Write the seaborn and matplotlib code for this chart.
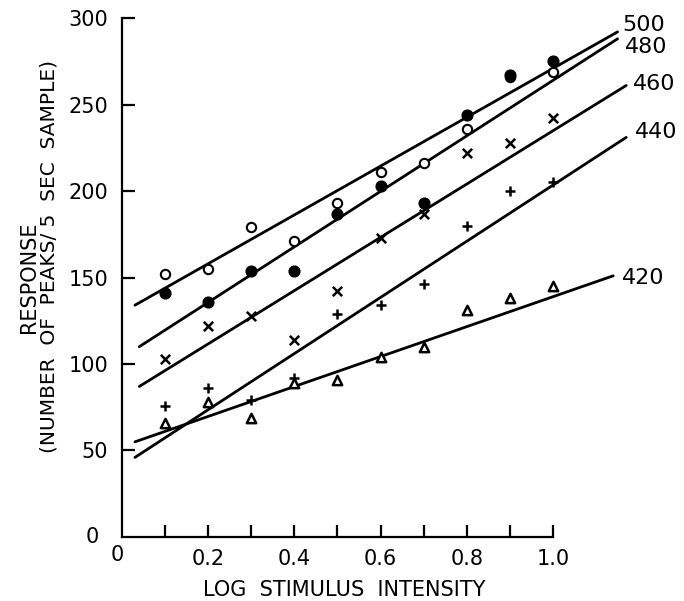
import matplotlib
matplotlib.use("Agg")
import matplotlib.pyplot as plt
import seaborn as sns
import pandas as pd

# ---- data ----
intensity = [0.1, 0.2, 0.3, 0.4, 0.5, 0.6, 0.7, 0.8, 0.9, 1.0]
open_circle = [152, 155, 179, 171, 193, 211, 216, 236, 266, 269]
filled_circle = [141, 136, 154, 154, 187, 203, 193, 244, 267, 275]
cross_x = [103, 122, 128, 114, 142, 173, 187, 222, 228, 242]
plus = [76, 86, 79, 92, 129, 134, 146, 180, 200, 205]
triangle = [66, 78, 69, 89, 91, 104, 110, 131, 138, 145]

# fitted lines (wavelength labels, start/end x and y)
wavelengths = ["500", "480", "460", "440", "420"]
line_x0 = [0.03, 0.04, 0.04, 0.03, 0.03]
line_x1 = [1.15, 1.15, 1.17, 1.17, 1.14]
line_y0 = [134, 110, 87, 46, 55]
line_y1 = [292, 288, 261, 231, 151]
# label anchor positions (data units)
label_x = [1.162, 1.167, 1.186, 1.190, 1.160]
label_y = [296, 283, 262, 234, 150]

xticks = [0.1, 0.2, 0.3, 0.4, 0.5, 0.6, 0.7, 0.8, 0.9, 1.0]
xticklabels = ["", "0.2", "", "0.4", "", "0.6", "", "0.8", "", "1.0"]
yticks = [50, 100, 150, 200, 250, 300]

sns.set_theme(style="ticks")
plt.rcParams['font.family'] = ['DejaVu Sans']
plt.rcParams['text.color'] = 'black'

fig = plt.figure(figsize=(6.84, 6.01), dpi=100)
ax = fig.add_axes([0.1784, 0.1065, 0.756, 0.8923])

# lines
for i, w in enumerate(wavelengths):
    df = pd.DataFrame({"x": [line_x0[i], line_x1[i]], "y": [line_y0[i], line_y1[i]]})
    sns.lineplot(data=df, x="x", y="y", ax=ax, color="black", linewidth=2.0,
                 estimator=None, sort=False, legend=False)
    ax.text(label_x[i], label_y[i], w, fontsize=16, ha="left", va="center",
            color="black", clip_on=False)

# markers
sns.scatterplot(x=intensity, y=open_circle, ax=ax, marker="o", s=45,
                facecolor="white", edgecolor="black", linewidth=1.5, zorder=3)
sns.scatterplot(x=intensity, y=filled_circle, ax=ax, marker="o", s=60,
                color="black", edgecolor="black", linewidth=1, zorder=4)
sns.scatterplot(x=intensity, y=cross_x, ax=ax, marker="x", s=45,
                color="black", linewidth=1.8, zorder=3)
sns.scatterplot(x=intensity, y=plus, ax=ax, marker="+", s=55,
                color="black", linewidth=1.8, zorder=3)
sns.scatterplot(x=intensity, y=triangle, ax=ax, marker="^", s=45,
                facecolor="white", edgecolor="black", linewidth=1.8, zorder=3)

ax.set_xlim(0, 1.2)
ax.set_ylim(0, 310)
ax.spines["top"].set_visible(False)
ax.spines["right"].set_visible(False)
ax.spines["left"].set_bounds(0, 300)
ax.spines["bottom"].set_bounds(0, 1.0)
for s in ("left", "bottom"):
    ax.spines[s].set_linewidth(1.6)
    ax.spines[s].set_color("black")

ax.set_xticks(xticks)
ax.set_xticklabels(xticklabels)
ax.set_yticks(yticks)
ax.set_yticklabels([str(v) for v in yticks])
ax.tick_params(axis="both", direction="in", length=9, width=1.6, labelsize=15,
               colors="black", labelcolor="black")
ax.tick_params(axis="y", pad=10)
ax.tick_params(axis="x", pad=9)
ax.text(-0.01, -10.5, "0", fontsize=15, ha="center", va="center", clip_on=False)
ax.text(-0.068, 0, "0", fontsize=15, ha="center", va="center", clip_on=False)

ax.set_xlabel("")
ax.set_ylabel("")
fig.text(344 / 684, 1 - 590 / 601, "LOG  STIMULUS  INTENSITY", fontsize=15,
         ha="center", va="center", color="black")
fig.text(29 / 684, 1 - 277 / 601, "RESPONSE", rotation=90, fontsize=15,
         ha="center", va="center", color="black")
fig.text(49 / 684, 1 - 256 / 601, "(NUMBER  OF  PEAKS/ 5  SEC  SAMPLE)", rotation=90,
         fontsize=14.5, ha="center", va="center", color="black")

fig.savefig("out.png", dpi=100, facecolor="white")
